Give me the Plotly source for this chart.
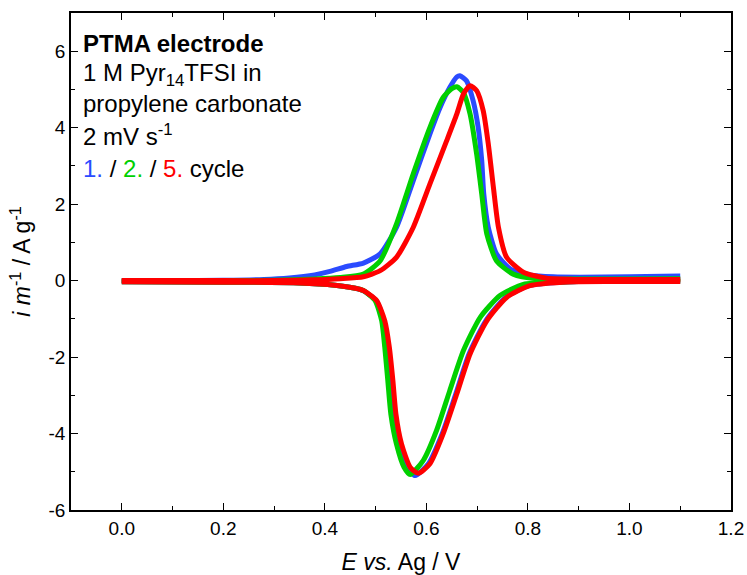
import plotly.graph_objects as go

# ---------------- data ----------------
# Anodic (forward) branches: potential E / V and current i / A g^-1
c1_fwd_E = [0.00, 0.10, 0.20, 0.28, 0.33, 0.38, 0.41, 0.443, 0.476, 0.509, 0.541, 0.574, 0.607, 0.627, 0.646, 0.660, 0.666, 0.679, 0.692, 0.702, 0.709, 0.713, 0.722, 0.738, 0.765, 0.804, 0.85, 0.902, 1.00, 1.10]
c1_fwd_i = [0.00, 0.00, 0.01, 0.03, 0.07, 0.15, 0.24, 0.37, 0.46, 0.70, 1.39, 2.61, 3.84, 4.53, 5.05, 5.33, 5.36, 5.23, 4.71, 4.01, 3.14, 2.27, 1.39, 0.70, 0.31, 0.15, 0.10, 0.09, 0.10, 0.12]

c2_fwd_E = [0.00, 0.10, 0.20, 0.30, 0.38, 0.43, 0.476, 0.509, 0.541, 0.574, 0.607, 0.633, 0.650, 0.660, 0.673, 0.686, 0.699, 0.709, 0.719, 0.738, 0.771, 0.817, 0.90, 1.00, 1.10]
c2_fwd_i = [0.00, 0.00, 0.00, 0.01, 0.04, 0.08, 0.17, 0.52, 1.48, 2.79, 4.01, 4.79, 5.02, 5.07, 4.92, 4.36, 3.31, 2.27, 1.22, 0.52, 0.17, 0.05, 0.04, 0.04, 0.05]

c5_fwd_E = [0.00, 0.10, 0.20, 0.30, 0.38, 0.43, 0.476, 0.509, 0.541, 0.574, 0.607, 0.640, 0.660, 0.673, 0.686, 0.699, 0.712, 0.722, 0.732, 0.742, 0.758, 0.791, 0.837, 0.90, 1.00, 1.10]
c5_fwd_i = [0.00, 0.00, 0.00, 0.00, 0.02, 0.05, 0.10, 0.26, 0.61, 1.39, 2.53, 3.66, 4.36, 4.88, 5.10, 4.97, 4.44, 3.57, 2.44, 1.39, 0.61, 0.22, 0.06, 0.03, 0.03, 0.03]

# Cathodic (reverse) branches
c1_rev_E = [1.10, 1.00, 0.90, 0.866, 0.802, 0.756, 0.717, 0.684, 0.658, 0.631, 0.604, 0.578, 0.564, 0.548, 0.536, 0.531, 0.525, 0.516, 0.501, 0.475, 0.46, 0.42, 0.35, 0.20, 0.00]
c1_rev_i = [-0.01, -0.01, -0.02, -0.04, -0.13, -0.44, -1.05, -1.92, -2.96, -4.01, -4.79, -5.10, -4.90, -4.27, -3.49, -2.61, -1.74, -1.05, -0.52, -0.26, -0.20, -0.12, -0.06, -0.04, -0.03]

c2_rev_E = [1.10, 1.00, 0.90, 0.86, 0.791, 0.745, 0.706, 0.673, 0.646, 0.620, 0.594, 0.568, 0.556, 0.541, 0.530, 0.524, 0.518, 0.512, 0.499, 0.476, 0.46, 0.42, 0.35, 0.20, 0.00]
c2_rev_i = [-0.01, -0.01, -0.02, -0.04, -0.10, -0.39, -0.96, -1.83, -2.88, -3.92, -4.70, -5.07, -4.88, -4.27, -3.49, -2.61, -1.74, -1.05, -0.52, -0.26, -0.20, -0.12, -0.06, -0.04, -0.03]

c5_rev_E = [1.10, 1.00, 0.90, 0.869, 0.804, 0.758, 0.719, 0.686, 0.660, 0.633, 0.607, 0.584, 0.568, 0.551, 0.540, 0.534, 0.527, 0.518, 0.502, 0.476, 0.46, 0.42, 0.35, 0.20, 0.00]
c5_rev_i = [-0.02, -0.02, -0.03, -0.04, -0.13, -0.44, -1.05, -1.92, -2.96, -4.01, -4.79, -5.04, -4.88, -4.27, -3.49, -2.61, -1.74, -1.05, -0.52, -0.26, -0.20, -0.12, -0.06, -0.04, -0.03]

cycle_names = ["1.", "2.", "5."]
cycle_colors = ["#2B4BFF", "#00D000", "#FF0000"]

x_tick_vals = [0.0, 0.2, 0.4, 0.6, 0.8, 1.0, 1.2]
y_tick_vals = [-6, -4, -2, 0, 2, 4, 6]

# ---------------- figure ----------------
FONT = "Liberation Sans, Arial, sans-serif"
fig = go.Figure()

cycles = [
    (c1_fwd_E, c1_fwd_i, c1_rev_E, c1_rev_i),
    (c2_fwd_E, c2_fwd_i, c2_rev_E, c2_rev_i),
    (c5_fwd_E, c5_fwd_i, c5_rev_E, c5_rev_i),
]
for (fE, fi, rE, ri), name, col in zip(cycles, cycle_names, cycle_colors):
    for xs, ys in ((fE, fi), (rE, ri)):
        fig.add_trace(go.Scatter(
            x=xs, y=ys, mode="lines", name=name, showlegend=False,
            line=dict(color=col, width=5, shape="spline", smoothing=0.6),
        ))

axis_common = dict(
    showline=True, linecolor="black", linewidth=1.5, mirror="ticks",
    ticks="inside", ticklen=7, tickwidth=1.3, tickcolor="black",
    showgrid=False, zeroline=False, automargin=False,
    tickfont=dict(family=FONT, size=19, color="black"),
)

fig.update_xaxes(
    range=[-0.1, 1.2], tickvals=x_tick_vals, ticktext=[f"{v:.1f}" for v in x_tick_vals],
    minor=dict(dtick=0.1, tick0=0, ticks="inside", ticklen=4, tickcolor="black", tickwidth=1.2),
    title=dict(text="<i>E</i> <i>vs.</i> Ag / V", font=dict(family=FONT, size=23, color="black"), standoff=16),
    **axis_common,
)
fig.update_yaxes(
    range=[-6, 7], tickvals=y_tick_vals, ticktext=[str(v) for v in y_tick_vals],
    minor=dict(dtick=1, tick0=0, ticks="inside", ticklen=4, tickcolor="black", tickwidth=1.2),
    title=dict(text="<i>i</i> <i>m</i><sup>-1</sup> / A g<sup>-1</sup>", font=dict(family=FONT, size=23, color="black"), standoff=11),
    **axis_common,
)

# text block in the upper left corner
text_lines = [
    "<b>PTMA electrode</b>",
    "1 M Pyr<sub>14</sub>TFSI in",
    "propylene carbonate",
    "2 mV s<sup>-1</sup>",
    f"<span style='color:{cycle_colors[0]}'>{cycle_names[0]}</span> / "
    f"<span style='color:{cycle_colors[1]}'>{cycle_names[1]}</span> / "
    f"<span style='color:{cycle_colors[2]}'>{cycle_names[2]}</span> cycle",
]
line_y = [44, 74, 104, 135, 168]
for txt, yy in zip(text_lines, line_y):
    fig.add_annotation(
        text=txt, xref="paper", yref="paper",
        x=(81 - 71) / 660, y=(510 - yy) / 497,
        xanchor="left", yanchor="middle", showarrow=False,
        font=dict(family=FONT, size=24, color="black"),
    )

fig.update_layout(
    width=747, height=575,
    margin=dict(l=71, r=16, t=13, b=65),
    plot_bgcolor="white", paper_bgcolor="white",
    showlegend=False,
)

fig.write_html("out.html", config={"displayModeBar": False},
               post_script="document.body.style.margin='0';")
